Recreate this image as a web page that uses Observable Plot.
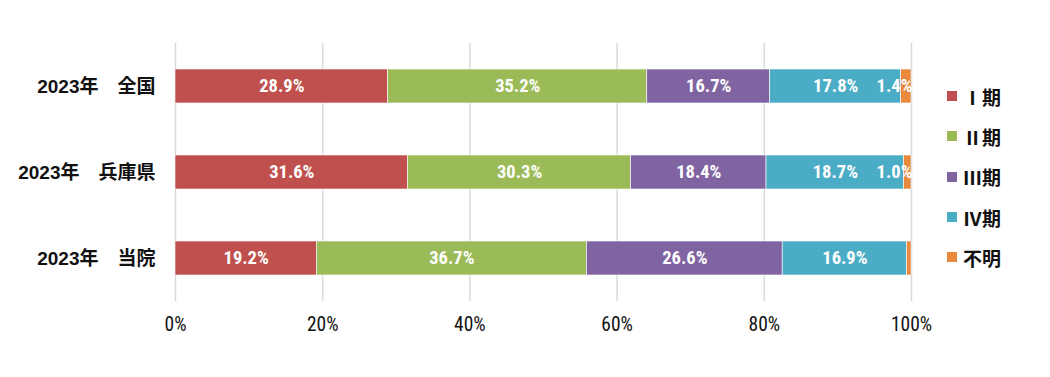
<!DOCTYPE html>
<html>
<head>
<meta charset="utf-8">
<script src="https://cdn.jsdelivr.net/npm/d3@7"></script>
<script src="https://cdn.jsdelivr.net/npm/@observablehq/plot@0.6"></script>
<style>
  body { margin: 0; background: #fff; }
  #wrap { position: relative; width: 1050px; height: 377px; }
  #legend { position: absolute; left: 947px; top: 76px; font-family: "Noto Sans CJK JP", sans-serif; font-weight: bold; font-size: 19px; color: #111; }
  #legend .item { display: flex; align-items: center; height: 40.3px; }
  #legend .sw { width: 10px; height: 10px; margin-right: 6px; flex: none; }
</style>
</head>
<body>
<div id="wrap"></div>
<script>
const categories = ["2023年　全国", "2023年　兵庫県", "2023年　当院"];
const stages = ["Ⅰ期", "Ⅱ期", "Ⅲ期", "Ⅳ期", "不明"];
const colors = ["#C0504D", "#9BBB59", "#8064A2", "#4BACC6", "#E8893E"];
const zenkoku = [28.9, 35.2, 16.7, 17.8, 1.4];
const hyogo = [31.6, 30.3, 18.4, 18.7, 1.0];
const touin = [19.2, 36.7, 26.6, 16.9, 0.6];
const xTicks = [0, 20, 40, 60, 80, 100];

const seriesValues = [zenkoku, hyogo, touin];
const data = [];
categories.forEach((c, i) => {
  let cum = 0;
  seriesValues[i].forEach((v, j) => {
    cum += v;
    data.push({cat: c, stage: stages[j], value: v, end: cum});
  });
});

const narrow = "'Roboto Condensed', 'Liberation Sans', sans-serif";

const bigLabels = data.filter(d => d.value >= 5);
const smallLabels = data.filter(d => d.value < 5 && d.value >= 0.8);

const chart = Plot.plot({
  width: 1050,
  height: 377,
  marginTop: 43,
  marginBottom: 76,
  marginLeft: 175,
  marginRight: 139,
  style: {background: "#fff"},
  x: {domain: [0, 100]},
  y: {domain: categories, paddingInner: 0.605, paddingOuter: 0.3025},
  color: {domain: stages, range: colors},
  marks: [
    Plot.ruleX(xTicks, {stroke: "#d9d9d9", strokeWidth: 1.5}),
    Plot.barX(data, Plot.stackX({x: "value", y: "cat", fill: "stage", order: stages, stroke: "#fff", strokeWidth: 0.6})),
    Plot.text(bigLabels, Plot.stackX({x: "value", y: "cat", z: "stage", order: stages,
      text: d => d.value.toFixed(1) + "%", fill: "white", fontWeight: "bold", fontSize: 18.5, fontFamily: narrow})),
    Plot.text(smallLabels, {x: "end", y: "cat", text: d => d.value.toFixed(1) + "%", textAnchor: "end", dx: 1,
      fill: "white", fontWeight: "bold", fontSize: 18.5, fontFamily: narrow}),
    Plot.axisX({anchor: "bottom", ticks: xTicks, tickFormat: d => d + "%", tickSize: 0, tickPadding: 16,
      fontSize: 19.5, fontFamily: narrow, fill: "#111", label: null}),
    Plot.axisY({anchor: "left", tickSize: 0, tickPadding: 20, fontSize: 19, fontWeight: "bold",
      fontFamily: "'Liberation Sans', 'Noto Sans CJK JP', sans-serif", fill: "#111", label: null})
  ]
});

const wrap = document.getElementById("wrap");
wrap.appendChild(chart);

const legend = document.createElement("div");
legend.id = "legend";
stages.forEach((s, i) => {
  const item = document.createElement("div");
  item.className = "item";
  const sw = document.createElement("span");
  sw.className = "sw";
  sw.style.background = colors[i];
  const t = document.createElement("span");
  t.textContent = s;
  item.appendChild(sw);
  item.appendChild(t);
  legend.appendChild(item);
});
wrap.appendChild(legend);
</script>
</body>
</html>
